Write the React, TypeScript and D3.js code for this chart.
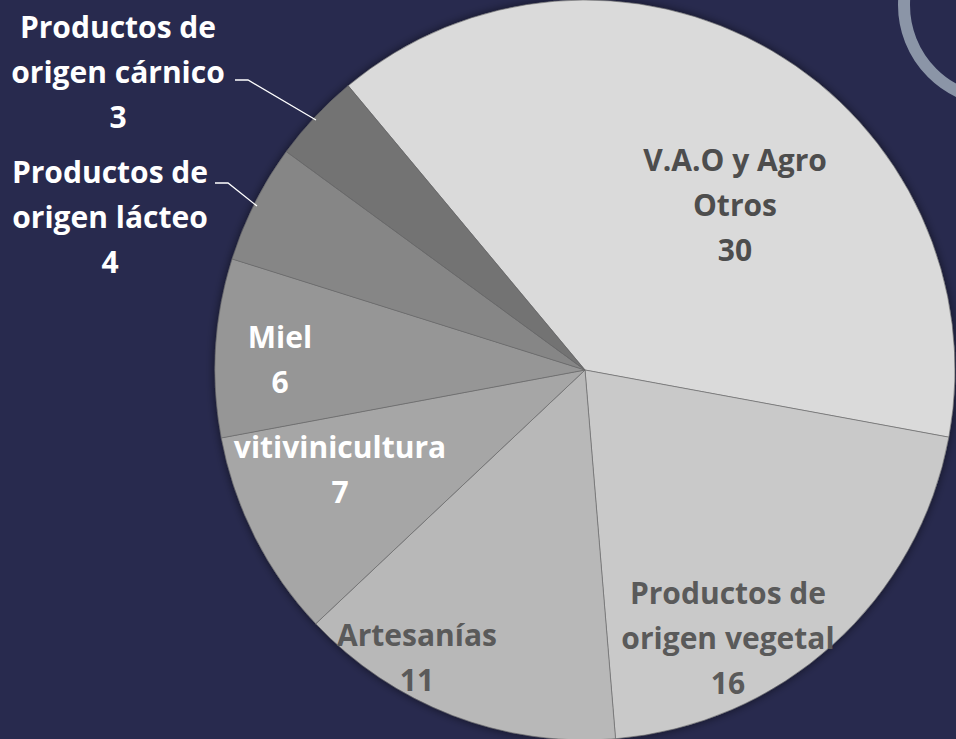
import React from "react";
import * as d3 from "d3";

const categories = [
  "V.A.O y Agro Otros",
  "Productos de origen vegetal",
  "Artesanías",
  "vitivinicultura",
  "Miel",
  "Productos de origen lácteo",
  "Productos de origen cárnico",
];
const values = [30, 16, 11, 7, 6, 4, 3];
const labelLines = [
  ["V.A.O y Agro", "Otros"],
  ["Productos de", "origen vegetal"],
  ["Artesanías"],
  ["vitivinicultura"],
  ["Miel"],
  ["Productos de", "origen lácteo"],
  ["Productos de", "origen cárnico"],
];
const fills = ["#dadada", "#c9c9c9", "#b8b8b8", "#a6a6a6", "#969696", "#868686", "#737373"];
const textColors = ["#4d4d4d", "#5a5a5a", "#5a5a5a", "#ffffff", "#ffffff", "#ffffff", "#ffffff"];
// label centre (x of text centre, y of first baseline) in page pixels
const labelPos: [number, number][] = [
  [735, 171],
  [728, 604],
  [417, 646],
  [340, 458],
  [280, 348],
  [110, 183],
  [118, 38],
];
// leader lines for outside labels: [x0,y0,x1,y1,x2,y2]
const leaders: (number[] | null)[] = [
  null, null, null, null, null,
  [215, 183, 228, 183, 257, 206],
  [235, 80, 248, 80, 316, 120],
];

const W = 956;
const H = 739;
const CX = 585;
const CY = 370;
const R = 370;
const START = (-39.8 * Math.PI) / 180;

export default function App() {
  const pie = d3
    .pie<number>()
    .sort(null)
    .startAngle(START)
    .endAngle(START + 2 * Math.PI)
    .value((d) => d);
  const arcs = pie(values);
  const arcGen = d3.arc<d3.PieArcDatum<number>>().innerRadius(0).outerRadius(R);
  const lineH = 45;
  return (
    <svg
      width={W}
      height={H}
      style={{ position: "absolute", left: 0, top: 0, display: "block" }}
      fontFamily="'Open Sans', Lato, sans-serif"
    >
      <defs>
        <filter id="sh" x="-20%" y="-20%" width="140%" height="140%">
          <feDropShadow dx="0" dy="0" stdDeviation="5" floodColor="#000" floodOpacity="0.55" />
        </filter>
      </defs>
      <rect width={W} height={H} fill="#282a4e" />
      <circle cx={1000} cy={5} r={96} fill="none" stroke="#8b95a7" strokeWidth={12} />
      <g transform={`translate(${CX},${CY})`} filter="url(#sh)">
        {arcs.map((a, i) => (
          <path key={categories[i]} d={arcGen(a) || ""} fill={fills[i]} stroke="#6a6a6a" strokeWidth={0.6} />
        ))}
      </g>
      {leaders.map((l, i) =>
        l ? (
          <polyline
            key={"l" + i}
            points={`${l[0]},${l[1]} ${l[2]},${l[3]} ${l[4]},${l[5]}`}
            fill="none"
            stroke="#ffffff"
            strokeWidth={1.3}
          />
        ) : null
      )}
      {labelLines.map((lines, i) => {
        const [x, y] = labelPos[i];
        const all = [...lines, String(values[i])];
        return (
          <text
            key={"t" + i}
            x={x}
            y={y}
            textAnchor="middle"
            fontSize={30}
            fontWeight="bold"
            fill={textColors[i]}
          >
            {all.map((s, j) => (
              <tspan key={j} x={x} y={y + j * lineH}>
                {s}
              </tspan>
            ))}
          </text>
        );
      })}
    </svg>
  );
}
